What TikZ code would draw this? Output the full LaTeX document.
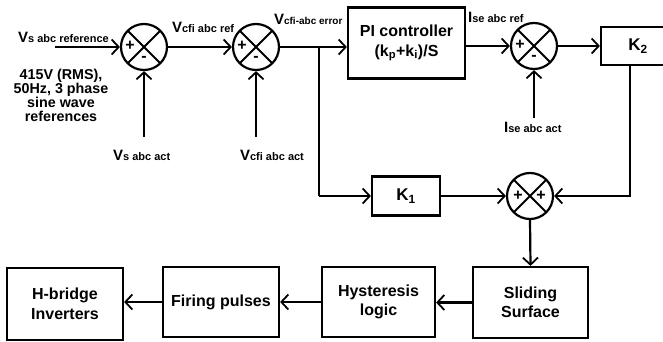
\documentclass[tikz,border=0pt]{standalone}
\usepackage{fontspec}
\setmainfont{Liberation Sans}
\usetikzlibrary{arrows.meta,calc}
\newcommand\sig[2]{{\fontsize{15}{16}\selectfont\bfseries #1}{\fontsize{11}{12}\selectfont\bfseries #2}}
\begin{document}
\begin{tikzpicture}[x=1pt,y=-1pt, line width=2.2pt,
  box/.style={draw, rectangle, inner sep=0, align=center, font=\fontsize{16}{19.5}\selectfont\bfseries},
  kbox/.style={draw, rectangle, inner sep=0, align=center, font=\fontsize{17}{19}\selectfont\bfseries},
  sumnode/.style={draw, circle, minimum size=46pt, inner sep=0,
    path picture={\draw[line width=2pt] (path picture bounding box.north west) -- (path picture bounding box.south east)
      (path picture bounding box.north east) -- (path picture bounding box.south west);}},
  arr/.style={-{Straight Barb[length=7pt,width=15pt,line width=1.8pt]}},
  sign/.style={font=\fontsize{16}{16}\selectfont\bfseries, inner sep=0},
  lbl/.style={inner sep=0, anchor=base west},
  note/.style={inner sep=0, align=center, font=\fontsize{14.3}{14}\selectfont\bfseries},
]
\useasboundingbox (0,0) rectangle (663,342);
\clip (0,0) rectangle (663,342);

% summing junctions
\node[sumnode] (s1) at (144,47) {};
\node[sumnode] (s2) at (256,47) {};
\node[sumnode] (s3) at (534,46) {};
\node[sumnode] (s4) at (530,196) {};
\node[sign] (s1p) at ($(s1)+(-14,-1)$) {+};
\node[sign] (s1m) at ($(s1)+(0,12)$) {-};
\node[sign] (s2p) at ($(s2)+(-14,-1)$) {+};
\node[sign] (s2m) at ($(s2)+(0,12)$) {-};
\node[sign] (s3p) at ($(s3)+(-14,-1)$) {+};
\node[sign] (s3m) at ($(s3)+(0,12)$) {-};
\node[sign] (s4p) at ($(s4)+(-12,0)$) {+};
\node[sign] (s4q) at ($(s4)+(11,0)$) {+};

% blocks
\node[box, minimum width=117pt, minimum height=71pt] (pi) at (406.5,43) {PI controller\\(k\textsubscript{p}+k\textsubscript{i})/S};
\node[kbox, minimum width=74pt, minimum height=38pt] (k2) at (638,46) {K\textsubscript{2}};
\node[kbox, minimum width=68pt, minimum height=39pt] (k1) at (406,196) {K\textsubscript{1}};
\node[box, minimum width=115pt, minimum height=71pt] (ss) at (530.5,302.5) {Sliding\\Surface};
\node[box, minimum width=113pt, minimum height=70pt] (hy) at (378.5,302) {Hysteresis\\logic};
\node[box, minimum width=116pt, minimum height=70pt] (fp) at (221,302) {Firing pulses};
\node[box, minimum width=116pt, minimum height=72pt] (hb) at (65,304) {H-bridge\\Inverters};

% labels
\node[lbl] (lref) at (17,43) {\sig{V}{s abc reference}};
\node[note] (lnote) at (61,95) {415V (RMS),\\50Hz, 3 phase\\sine wave\\references};
\node[lbl] (lcref) at (171,33) {\sig{V}{cfi abc ref}};
\node[lbl] (lerr) at (273,25) {{\fontsize{15}{16}\selectfont\bfseries V}{\fontsize{10}{12}\selectfont\bfseries cfi-abc error}};
\node[lbl] (liref) at (467,23) {\sig{I}{se abc ref}};
\node[lbl] (lvact) at (112,160) {\sig{V}{s abc act}};
\node[lbl] (lcact) at (239,160) {\sig{V}{cfi abc act}};
\node[lbl] (liact) at (503,132) {\sig{I}{se abc act}};

% input coordinates
\coordinate (in1) at (55,47);
\coordinate (a1) at (144,137);
\coordinate (a2) at (256,137);
\coordinate (a3) at (534,118);
\coordinate (br) at (319,47);
\coordinate (brd) at (319,196);
\coordinate (kd) at (630,196);

% connectors
\draw[arr] (in1) -- (s1.west);
\draw[arr] (a1) -- (s1.south);
\draw[arr] (s1.east) -- (s2.west);
\draw[arr] (a2) -- (s2.south);
\draw[arr] (s2.east) -- (s2.east -| pi.west);
\draw (br) -- (brd);
\draw[arr] (brd) -- (k1.west);
\draw[arr] (k1.east) -- (s4.west);
\draw[arr] (pi.east |- s3) -- (s3.west);
\draw[arr] (a3) -- (s3.south);
\draw[arr] (s3.east) -- (k2.west |- s3);
\draw[arr] (k2.south -| kd) -- (kd) -- (s4.east);
\draw[arr] (s4.south) -- (ss.north);
\draw[arr] (ss.west) -- (ss.west -| hy.east);
\draw[arr] (hy.west) -- (hy.west -| fp.east);
\draw[arr] (fp.west) -- (fp.west -| hb.east);
\end{tikzpicture}
\end{document}
